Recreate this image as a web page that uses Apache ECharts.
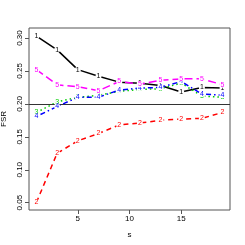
<!DOCTYPE html>
<html><head><meta charset="utf-8">
<script src="https://cdn.jsdelivr.net/npm/echarts@6/dist/echarts.min.js"></script>
<style>html,body{margin:0;padding:0;background:#fff}#c{width:245px;height:245px}</style>
</head><body><div id="c"></div>
<script>
const sValues = [1, 3, 5, 7, 9, 11, 13, 15, 17, 19];
const series1 = [0.303, 0.282, 0.252, 0.242, 0.233, 0.2315, 0.228, 0.218, 0.225, 0.224];
const series2 = [0.0505, 0.125, 0.144, 0.155, 0.168, 0.171, 0.175, 0.177, 0.178, 0.187];
const series3 = [0.187, 0.203, 0.210, 0.213, 0.219, 0.222, 0.223, 0.2315, 0.212, 0.210];
const series4 = [0.181, 0.196, 0.210, 0.210, 0.221, 0.224, 0.225, 0.234, 0.215, 0.213];
const series5 = [0.252, 0.229, 0.226, 0.220, 0.234, 0.230, 0.236, 0.238, 0.238, 0.229];
const xTicks = [5, 10, 15];
const yTicks = [0.05, 0.10, 0.15, 0.20, 0.25, 0.30];
const refLine = 0.20;

const specs = [
  {name: '1', data: series1, color: '#000000', dash: 'solid'},
  {name: '2', data: series2, color: '#ff0000', dash: [5, 4]},
  {name: '3', data: series3, color: '#00cd00', dash: [1.5, 3]},
  {name: '4', data: series4, color: '#0000ff', dash: [1.5, 3, 5, 3]},
  {name: '5', data: series5, color: '#ff00ff', dash: [8, 4]}
];
const font = 'Liberation Sans, Arial, sans-serif';
const chart = echarts.init(document.getElementById('c'), null, {renderer: 'canvas'});
const seriesList = specs.map((s, i) => ({
  type: 'line',
  name: s.name,
  data: sValues.map((x, k) => [x, s.data[k]]),
  symbol: 'circle',
  symbolSize: 6,
  showAllSymbol: true,
  itemStyle: {color: '#ffffff', borderWidth: 0},
  lineStyle: {color: s.color, width: 1.5, type: s.dash},
  label: {show: true, position: 'inside', formatter: s.name, color: s.color, fontSize: 7, fontFamily: font},
  emphasis: {disabled: true},
  animation: false,
  z: 2 + i,
  markLine: i === 0 ? {
    silent: true, symbol: 'none', label: {show: false},
    lineStyle: {color: '#333', width: 1, type: 'solid'},
    data: [{yAxis: refLine}]
  } : undefined
}));
chart.setOption({
  animation: false,
  backgroundColor: '#fff',
  grid: {left: 29, right: 15, top: 28, bottom: 35, show: true, borderColor: '#555', borderWidth: 1,
         containLabel: false, outerBoundsMode: 'none'},
  xAxis: {
    type: 'value', min: 0.28, max: 19.72,
    name: 's', nameLocation: 'middle', nameGap: 21,
    nameTextStyle: {color: '#000', fontSize: 8, fontFamily: font},
    axisLine: {show: false},
    splitLine: {show: false},
    axisTick: {show: true, length: 4, lineStyle: {color: '#555'}, customValues: xTicks},
    axisLabel: {color: '#000', fontSize: 8, fontFamily: font, margin: 5, customValues: xTicks, formatter: v => String(v)}
  },
  yAxis: {
    type: 'value', min: 0.0389, max: 0.3152,
    name: 'FSR', nameLocation: 'middle', nameGap: 19, nameRotate: 90,
    nameTextStyle: {color: '#000', fontSize: 8, fontFamily: font},
    axisLine: {show: false},
    splitLine: {show: false},
    axisTick: {show: true, length: 4, lineStyle: {color: '#555'}, customValues: yTicks},
    axisLabel: {color: '#000', fontSize: 8, fontFamily: font, rotate: 90, margin: 5, customValues: yTicks, formatter: v => v.toFixed(2)}
  },
  series: seriesList
});
</script></body></html>
